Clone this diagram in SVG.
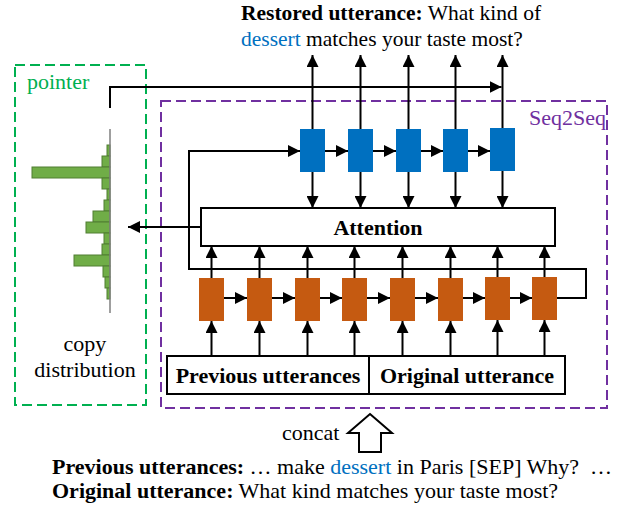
<svg xmlns="http://www.w3.org/2000/svg" width="618" height="506" viewBox="0 0 618 506" font-family="'Liberation Serif', 'Times New Roman', serif">
<defs>
<marker id="ah" markerUnits="userSpaceOnUse" markerWidth="12" markerHeight="12" refX="12" refY="6" orient="auto">
<path d="M0,0 L12,6 L0,12 z" fill="#000"/>
</marker>
<style>
text{font-family:'Liberation Serif','Times New Roman',serif;font-size:22px;fill:#000;white-space:pre}
.top{font-size:21.5px}
.b{font-weight:bold}
.blue{fill:#0070C0}
.ln{stroke:#000;stroke-width:2;fill:none}
.arr{stroke:#000;stroke-width:2;fill:none;marker-end:url(#ah)}
.dec{fill:#0070C0}
.enc{fill:#C55A11}
.bar{fill:#70AD47;stroke:#507E32;stroke-width:1}
.box{fill:#fff;stroke:#000;stroke-width:2}
</style>
</defs>

<g id="restored-text">
<text class="top" x="241" y="19.5"><tspan class="b">Restored utterance:</tspan> What kind of</text>
<text class="top" x="241" y="45.5"><tspan class="blue">dessert</tspan> matches your taste most?</text>
</g>

<g id="pointer-box">
<rect x="15" y="65" width="131" height="340" fill="none" stroke="#00B050" stroke-width="2" stroke-dasharray="10,5"/>
<text x="27" y="89" style="fill:#00B050">pointer</text>
</g>

<g id="seq2seq-box">
<rect x="161" y="101" width="446" height="307" fill="none" stroke="#7030A0" stroke-width="2" stroke-dasharray="10,5"/>
<text x="529" y="125" style="fill:#7030A0">Seq2Seq</text>
</g>

<g id="copy-distribution">
<rect class="bar" x="107" y="145" width="3" height="11"/>
<rect class="bar" x="102" y="156" width="8" height="11"/>
<rect class="bar" x="32" y="167" width="78" height="11"/>
<rect class="bar" x="102" y="178" width="8" height="11"/>
<rect class="bar" x="107" y="189" width="3" height="11"/>
<rect class="bar" x="104" y="200" width="6" height="11"/>
<rect class="bar" x="93" y="211" width="17" height="11"/>
<rect class="bar" x="86" y="222" width="24" height="11"/>
<rect class="bar" x="104" y="233" width="6" height="11"/>
<rect class="bar" x="102" y="244" width="8" height="11"/>
<rect class="bar" x="74" y="255" width="36" height="11"/>
<rect class="bar" x="103" y="266" width="7" height="11"/>
<rect class="bar" x="105" y="277" width="5" height="11"/>
<rect class="bar" x="107" y="288" width="3" height="11"/>
<line x1="110" y1="129" x2="110" y2="313" stroke="#7F7F7F" stroke-width="1.5"/>
<text x="85" y="351" text-anchor="middle">copy</text>
<text x="85" y="377" text-anchor="middle">distribution</text>
</g>

<g id="decoder">
<rect class="dec" x="300" y="129" width="25" height="43"/>
<rect class="dec" x="348" y="129" width="25" height="43"/>
<rect class="dec" x="396" y="129" width="25" height="43"/>
<rect class="dec" x="443" y="129" width="25" height="43"/>
<rect class="dec" x="490" y="128" width="25" height="43"/>
</g>

<g id="attention">
<rect class="box" x="201" y="208" width="354" height="38"/>
<text x="378" y="235" class="b" text-anchor="middle">Attention</text>
</g>

<g id="encoder">
<rect class="enc" x="199" y="278" width="25" height="43"/>
<rect class="enc" x="247" y="278" width="25" height="43"/>
<rect class="enc" x="295" y="278" width="25" height="43"/>
<rect class="enc" x="342" y="278" width="25" height="43"/>
<rect class="enc" x="390" y="278" width="25" height="43"/>
<rect class="enc" x="438" y="278" width="25" height="43"/>
<rect class="enc" x="485" y="277" width="25" height="43"/>
<rect class="enc" x="532" y="277" width="25" height="43"/>
</g>

<g id="input-box">
<rect class="box" x="167" y="356" width="398" height="38"/>
<line class="ln" x1="369" y1="356" x2="369" y2="394"/>
<text x="268" y="383" class="b" text-anchor="middle">Previous utterances</text>
<text x="467" y="383" class="b" text-anchor="middle">Original utterance</text>
</g>

<g id="concat">
<text x="282" y="440">concat</text>
<path d="M370,414 L392,433 L381,433 L381,452 L359,452 L359,433 L348,433 Z" fill="#fff" stroke="#000" stroke-width="2" stroke-linejoin="miter"/>
</g>

<g id="bottom-text">
<text x="52" y="474"><tspan class="b">Previous utterances:</tspan> … make <tspan class="blue">dessert</tspan> in Paris [SEP] Why?  …</text>
<text x="52" y="498"><tspan class="b">Original utterance:</tspan> What kind matches your taste most?</text>
</g>

<g id="connectors">
<line class="arr" x1="312.5" y1="129" x2="312.5" y2="55"/>
<line class="arr" x1="360.5" y1="129" x2="360.5" y2="55"/>
<line class="arr" x1="408.5" y1="129" x2="408.5" y2="55"/>
<line class="arr" x1="455.5" y1="129" x2="455.5" y2="55"/>
<line class="arr" x1="502.5" y1="128" x2="502.5" y2="55"/>
<path class="arr" d="M110,108 V87 H501.5"/>
<line class="arr" x1="325" y1="151" x2="348" y2="151"/>
<line class="arr" x1="373" y1="151" x2="396" y2="151"/>
<line class="arr" x1="421" y1="151" x2="443" y2="151"/>
<line class="arr" x1="468" y1="151" x2="490" y2="151"/>
<line class="arr" x1="312.5" y1="172" x2="312.5" y2="208"/>
<line class="arr" x1="360.5" y1="172" x2="360.5" y2="208"/>
<line class="arr" x1="408.5" y1="172" x2="408.5" y2="208"/>
<line class="arr" x1="455.5" y1="172" x2="455.5" y2="208"/>
<line class="arr" x1="502.5" y1="171" x2="502.5" y2="208"/>
<line class="arr" x1="201" y1="227" x2="128" y2="227"/>
<path class="arr" d="M557,298 H586 V269 H189 V151 H300"/>
<line class="arr" x1="224" y1="298" x2="247" y2="298"/>
<line class="arr" x1="272" y1="298" x2="295" y2="298"/>
<line class="arr" x1="320" y1="298" x2="342" y2="298"/>
<line class="arr" x1="367" y1="298" x2="390" y2="298"/>
<line class="arr" x1="415" y1="298" x2="438" y2="298"/>
<line class="arr" x1="463" y1="298" x2="485" y2="298"/>
<line class="arr" x1="510" y1="298" x2="532" y2="298"/>
<line class="arr" x1="211.5" y1="278" x2="211.5" y2="246"/>
<line class="arr" x1="259.5" y1="278" x2="259.5" y2="246"/>
<line class="arr" x1="307.5" y1="278" x2="307.5" y2="246"/>
<line class="arr" x1="354.5" y1="278" x2="354.5" y2="246"/>
<line class="arr" x1="402.5" y1="278" x2="402.5" y2="246"/>
<line class="arr" x1="450.5" y1="278" x2="450.5" y2="246"/>
<line class="arr" x1="497.5" y1="277" x2="497.5" y2="246"/>
<line class="arr" x1="544.5" y1="277" x2="544.5" y2="246"/>
<line class="arr" x1="211.5" y1="356" x2="211.5" y2="321"/>
<line class="arr" x1="259.5" y1="356" x2="259.5" y2="321"/>
<line class="arr" x1="307.5" y1="356" x2="307.5" y2="321"/>
<line class="arr" x1="354.5" y1="356" x2="354.5" y2="321"/>
<line class="arr" x1="402.5" y1="356" x2="402.5" y2="321"/>
<line class="arr" x1="450.5" y1="356" x2="450.5" y2="321"/>
<line class="arr" x1="497.5" y1="356" x2="497.5" y2="320"/>
<line class="arr" x1="544.5" y1="356" x2="544.5" y2="320"/>
</g>
</svg>
